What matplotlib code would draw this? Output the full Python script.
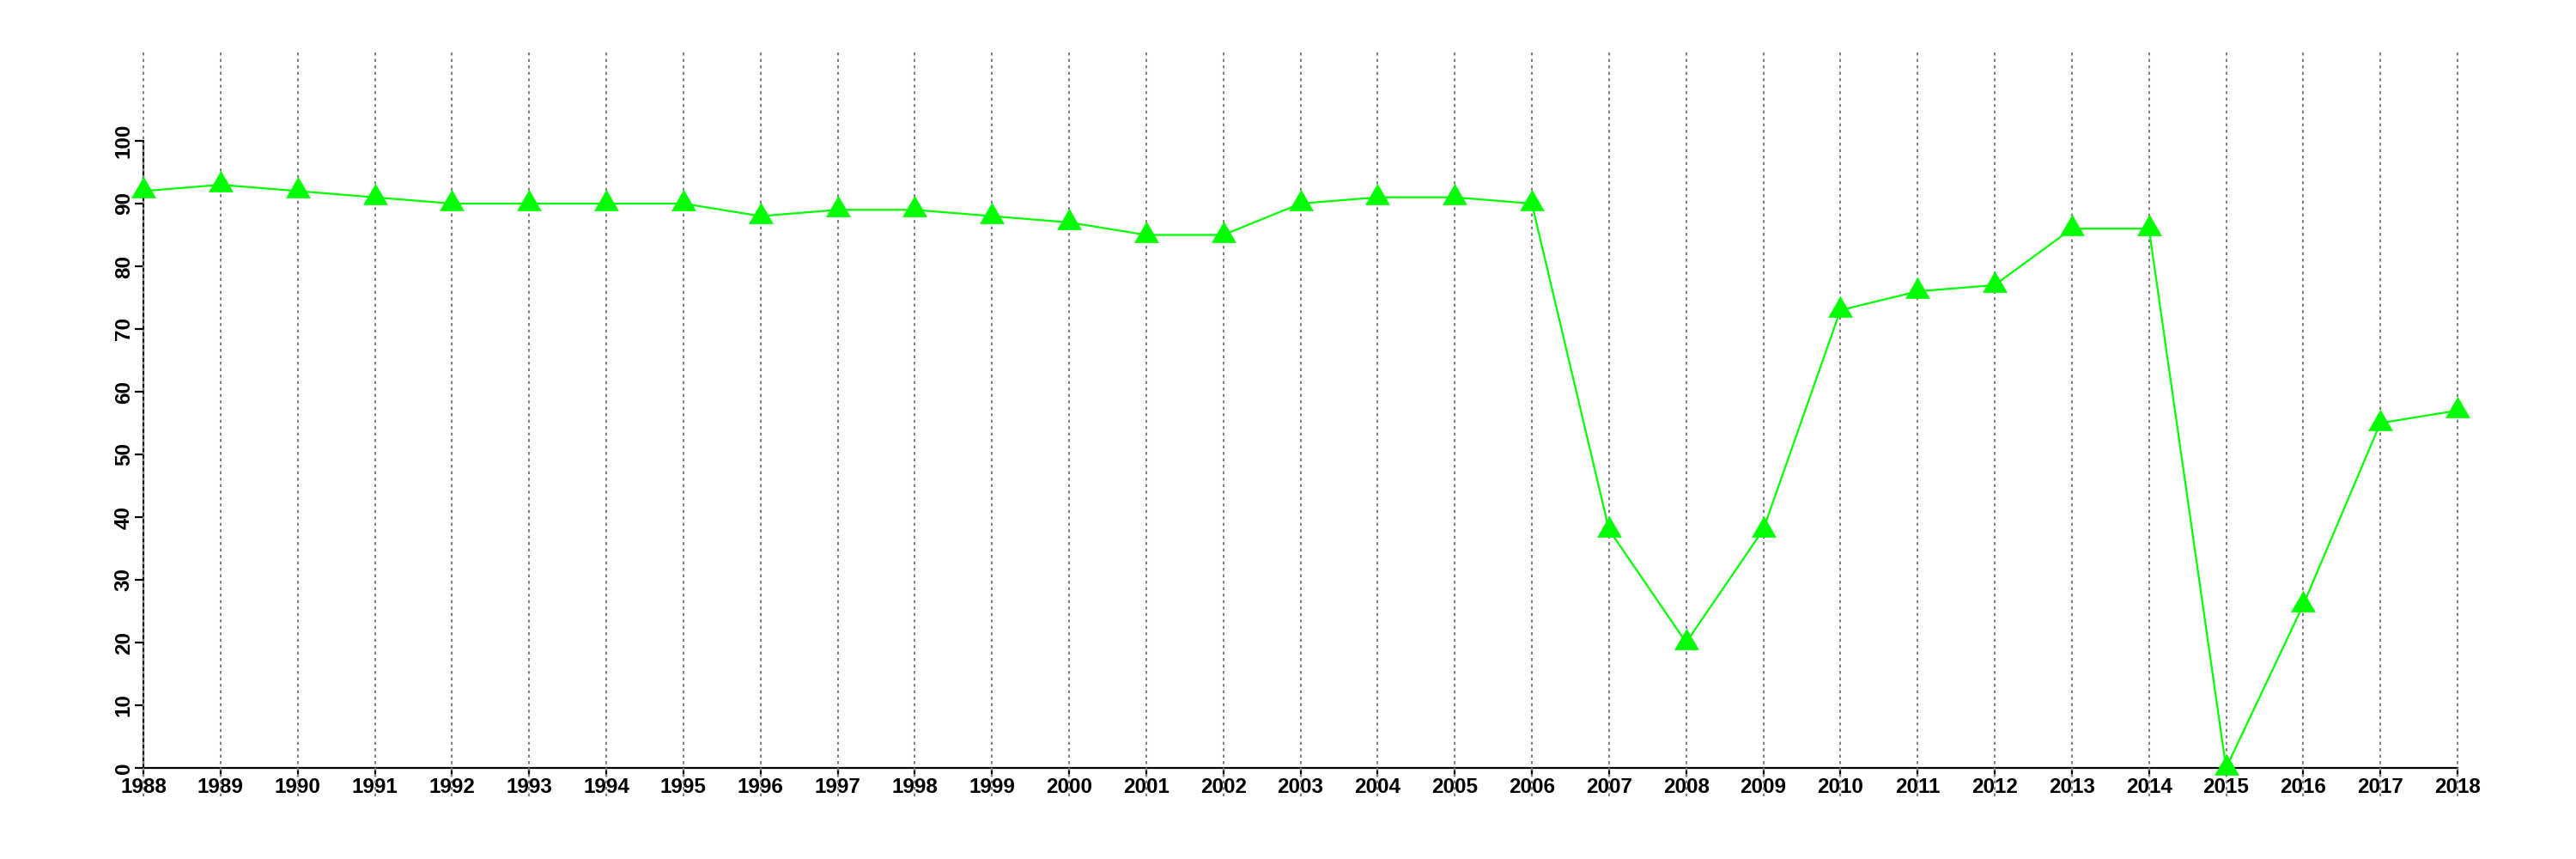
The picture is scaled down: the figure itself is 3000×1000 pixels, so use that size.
import matplotlib
matplotlib.use("Agg")
import matplotlib.pyplot as plt

# data
years = list(range(1988, 2019))
values = [92, 93, 92, 91, 90, 90, 90, 90, 88, 89, 89, 88, 87, 85, 85,
          90, 91, 91, 90, 38, 20, 38, 73, 76, 77, 86, 86, 0, 26, 55, 57]
yticks = [0, 10, 20, 30, 40, 50, 60, 70, 80, 90, 100]

plt.rcParams["font.family"] = ["Liberation Sans", "DejaVu Sans"]

fig = plt.figure(figsize=(30, 10), dpi=100)
ax = fig.add_axes([167 / 3000, 1 - 894 / 1000, (2862 - 167) / 3000, (894 - 164) / 1000])

ax.set_xlim(1988, 2018)
ax.set_ylim(0, 100)

# vertical grid, runs past the plot box like in the original
ax.vlines(years, -4.5, 114.2, colors="#7f7f7f", linestyles=(0, (1.6, 2.0)),
          linewidth=1.5, zorder=3, clip_on=False)

# filled triangle like R's pch=17, centred on its centroid
tri = [(-1, -0.577), (1, -0.577), (0, 1.155), (-1, -0.577)]
ax.plot(years, values, color="#00ff00", linewidth=1.6, marker=tri,
        markersize=24, markeredgewidth=0, zorder=4, clip_on=False)

for s in ["top", "right"]:
    ax.spines[s].set_visible(False)
for s in ["left", "bottom"]:
    ax.spines[s].set_linewidth(1.6)
ax.spines["bottom"].set_bounds(1988, 2018)
ax.spines["left"].set_bounds(0, 100)

ax.set_xticks(years)
ax.set_xticklabels([str(y) for y in years])
ax.set_yticks(yticks)
ax.set_yticklabels([str(v) for v in yticks], rotation=90, va="center")
ax.tick_params(axis="both", length=7, width=1.6, pad=1, labelsize=17.5)
for lab in ax.get_xticklabels() + ax.get_yticklabels():
    lab.set_fontweight("bold")

fig.savefig("out.png", dpi=100)
